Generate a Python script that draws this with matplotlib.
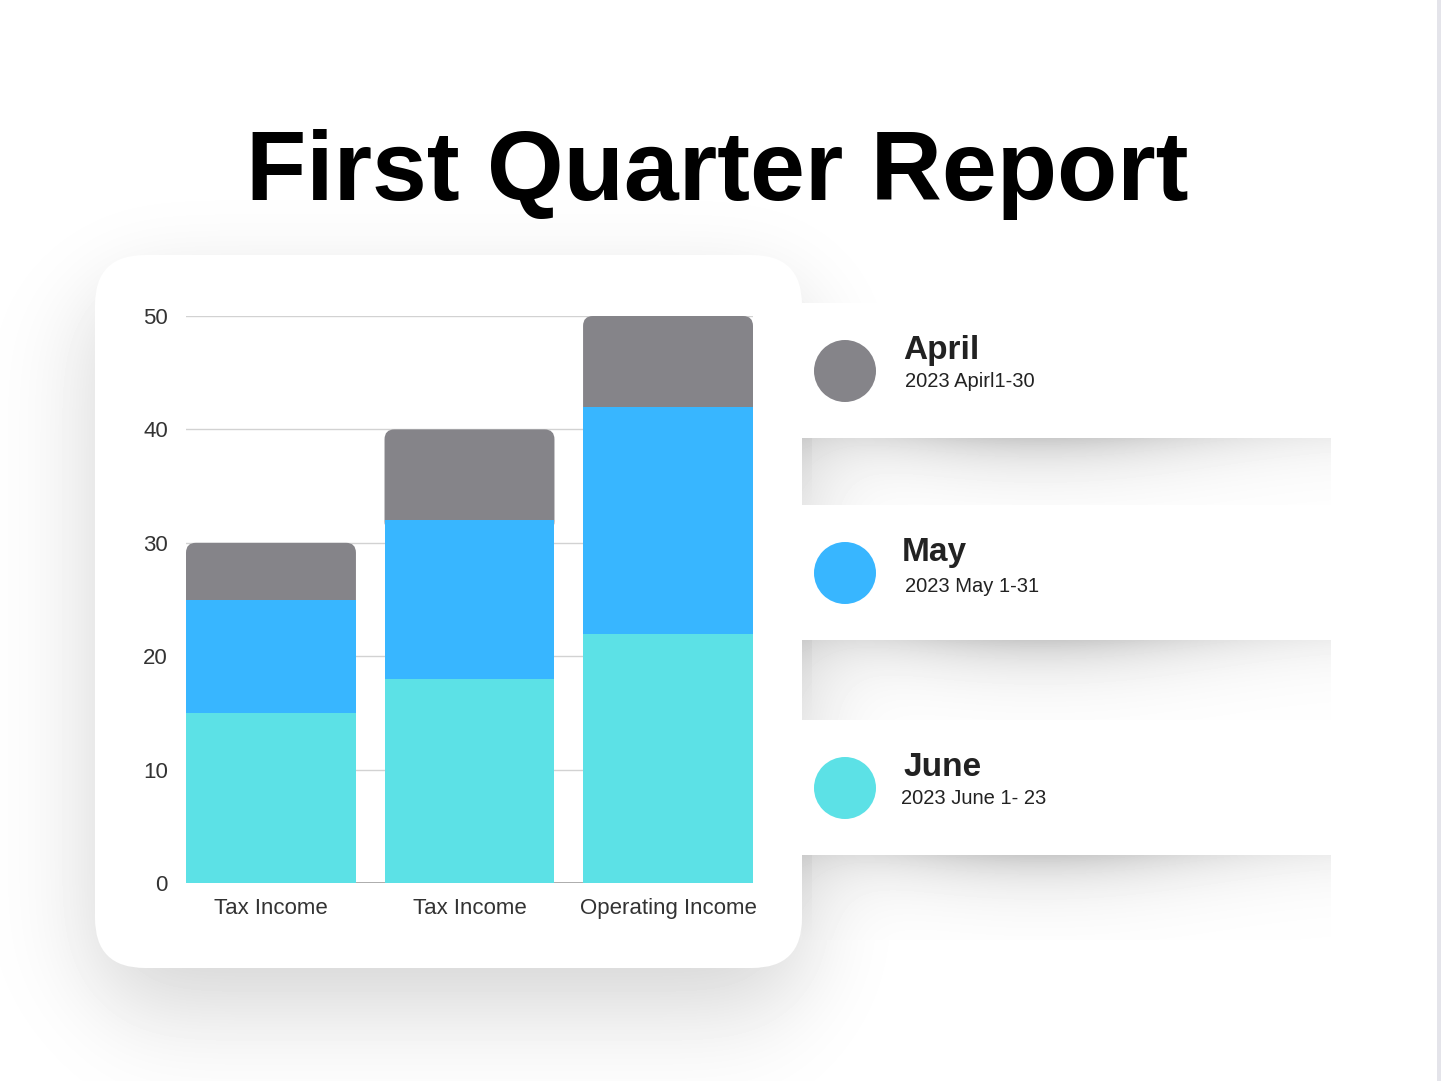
import numpy as np
import matplotlib
matplotlib.use("Agg")
import matplotlib.pyplot as plt
from matplotlib.patches import FancyBboxPatch, Rectangle, Circle

plt.rcParams['font.family'] = ['Liberation Sans', 'DejaVu Sans']

# data
categories = ["Tax Income", "Tax Income", "Operating Income"]
june = np.array([15, 18, 22])
may = np.array([10, 14, 20])
april = np.array([5, 8, 8])

series_names = ["April", "May", "June"]
series_sub = ["2023 Apirl1-30", "2023 May 1-31", "2023 June 1- 23"]
colors = {"April": "#858489", "May": "#38b6ff", "June": "#5ce1e6"}

W, H = 1441, 1081
fig = plt.figure(figsize=(W / 100, H / 100), dpi=100)

# ---- background with soft shadows ----
yy, xx = np.mgrid[0:H, 0:W].astype(float)

def rrect_mask(x0, y0, x1, y1, r):
    dx = np.maximum(np.maximum(x0 + r - xx, 0), xx - (x1 - r))
    dy = np.maximum(np.maximum(y0 + r - yy, 0), yy - (y1 - r))
    return ((dx ** 2 + dy ** 2) <= r ** 2).astype(float)

def gauss_mat(n, s):
    i = np.arange(n)
    g = np.exp(-(i[:, None] - i[None, :]) ** 2 / (2 * s * s))
    return g / g.sum(axis=1, keepdims=True)

mask = rrect_mask(95, 255 + 35, 802, 968 + 35, 50)
blur = gauss_mat(H, 45) @ mask @ gauss_mat(W, 45).T
dark = 0.17 * blur

bands = [(438, 505), (640, 720), (855, 940)]
for y0, y1 in bands:
    sel = (xx >= 802) & (xx <= 1330) & (yy >= y0) & (yy < y1)
    t = (yy - y0)
    bd = np.exp(-t / 28) * (0.06 + 0.15 * np.exp(-((xx - 1040) / 180) ** 2))
    bd += 0.03 * np.clip(1 - t / (y1 - y0), 0, 1) * (xx < 812)
    dark = np.where(sel, dark + bd, dark)

bg = np.clip(1 - dark, 0, 1)

axbg = fig.add_axes([0, 0, 1, 1])
axbg.imshow(bg, cmap="gray", vmin=0, vmax=1, extent=(0, W, H, 0), aspect="auto", interpolation="bilinear")
axbg.set_xlim(0, W)
axbg.set_ylim(H, 0)
axbg.axis("off")

# card and legend strips
axbg.add_patch(FancyBboxPatch((95, 255), 707, 713, boxstyle="round,pad=0,rounding_size=50",
                              facecolor="white", edgecolor="none"))
strips = [(303, 438), (505, 640), (720, 855)]
for y0, y1 in strips:
    axbg.add_patch(Rectangle((802, y0), 528, y1 - y0, facecolor="white", edgecolor="none"))
axbg.add_patch(Rectangle((1437, 0), 4, H, facecolor="#e4e4ea", edgecolor="none"))

axbg.text(717, 200, "First Quarter Report", ha="center", va="baseline",
          fontsize=71, fontweight="bold", color="black")

# legend entries
circ_y = [371, 573, 788]
title_pos = [(903, 359), (902, 561), (903, 776)]
sub_pos = [(905, 387), (905, 592), (901, 804)]
for name, sub, cy, tp, sp in zip(series_names, series_sub, circ_y, title_pos, sub_pos):
    axbg.add_patch(Circle((845, cy), 31, facecolor=colors[name], edgecolor="none"))
    axbg.text(tp[0], tp[1], name, ha="left", va="baseline", fontsize=24,
              fontweight="bold", color="#222222")
    axbg.text(sp[0], sp[1], sub, ha="left", va="baseline", fontsize=14.5, color="#222222")

# ---- chart ----
ax = fig.add_axes([186 / W, 1 - 883 / H, (753 - 186) / W, (883 - 316) / H])
ax.set_facecolor("none")
x = np.arange(len(categories))
bw = 0.856
ax.bar(x, june, bw, color=colors["June"], zorder=3)
ax.bar(x, may, bw, bottom=june, color=colors["May"], zorder=3)
tops = ax.bar(x, april, bw, bottom=june + may, color=colors["April"], zorder=2)

xlim = (-0.428, 2.428)
ax.set_xlim(*xlim)
ax.set_ylim(0, 50)
asp = 50 / (xlim[1] - xlim[0])
for r in tops:
    r.set_visible(False)
    ax.add_patch(FancyBboxPatch((r.get_x(), r.get_y() - 1), r.get_width(), r.get_height() + 1,
                                boxstyle="round,pad=0,rounding_size=0.05", mutation_aspect=asp,
                                facecolor=r.get_facecolor(), edgecolor="none", zorder=2))

ax.set_yticks(range(0, 51, 10))
ax.yaxis.grid(True, color="#d2d2d2", lw=1)
ax.set_axisbelow(True)
ax.axhline(0, color="#a0a0a0", lw=1.2, zorder=1)
for s in ax.spines.values():
    s.set_visible(False)
ax.set_xticks(x)
ax.set_xticklabels(categories)
ax.tick_params(axis="y", length=0, pad=13, labelsize=16, labelcolor="#333333")
ax.tick_params(axis="x", length=0, pad=11, labelsize=16, labelcolor="#333333")

fig.savefig("out.png", dpi=100)
